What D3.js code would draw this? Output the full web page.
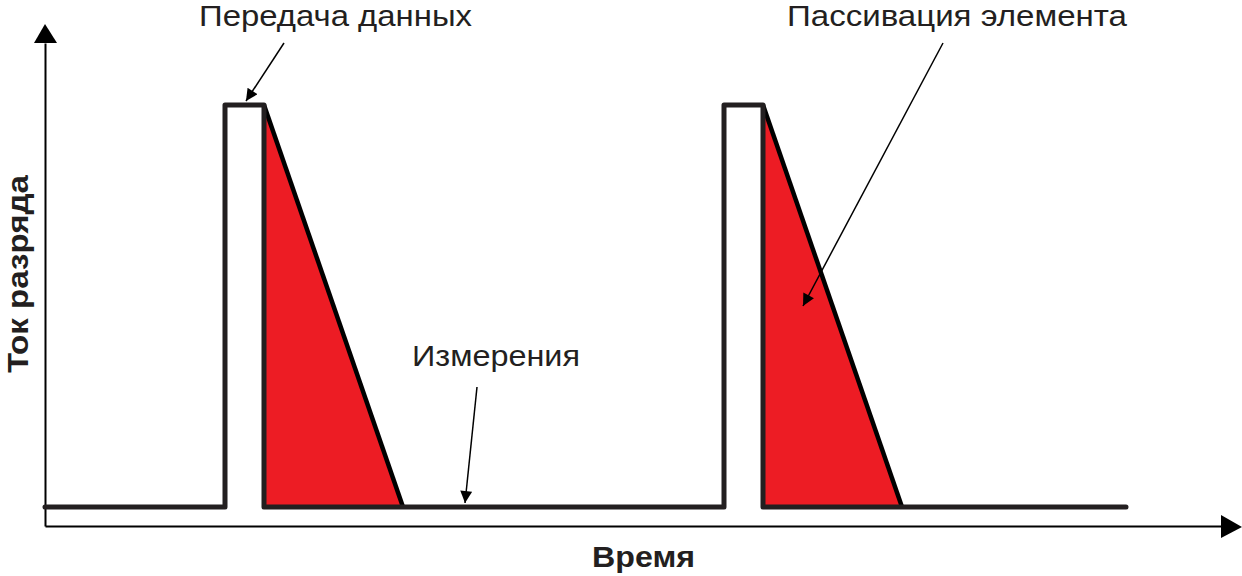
<!DOCTYPE html>
<html><head><meta charset="utf-8">
<script src="https://cdn.jsdelivr.net/npm/d3@7"></script>
<style>html,body{margin:0;padding:0;background:#fff;}svg{display:block;}</style>
</head><body>
<script>
// Data (arbitrary time units, normalized current)
const signalTime = [0, 180, 180, 219, 219, 679, 679, 718, 718, 1081];
const signalCurrent = [0, 0, 1, 1, 0, 0, 1, 1, 0, 0];
const passStart = [219, 718];
const passEnd = [358, 857];
const passPeak = [1, 1];
const labels = ["Передача данных", "Пассивация элемента", "Измерения"];
const labelTargetsT = [201, 758, 420];
const labelTargetsI = [1.01, 0.5, 0.01];
const axisTitles = ["Время", "Ток разряда"];

const W = 1242, H = 576;
const ink = "#231f20", red = "#ed1c24";
const svg = d3.select("body").append("svg").attr("width", W).attr("height", H);

const x = d3.scaleLinear().domain([0, 1196]).range([45, 1241]);
const y = d3.scaleLinear().domain([0, 1]).range([507, 105]);
const axisY = 526, axisX = 45;

// Axes (no ticks)
const xAxisScale = d3.scaleLinear().domain([0, 1]).range([axisX, 1222]);
svg.append("g").attr("transform", `translate(0,${axisY})`)
  .call(d3.axisBottom(xAxisScale).tickValues([]).tickSizeOuter(0))
  .select(".domain").attr("stroke", "#000").attr("stroke-width", 2);
const yAxisScale = d3.scaleLinear().domain([0, 1]).range([axisY, 43]);
svg.append("g").attr("transform", `translate(${axisX},0)`)
  .call(d3.axisLeft(yAxisScale).tickValues([]).tickSizeOuter(0))
  .select(".domain").attr("stroke", "#000").attr("stroke-width", 2);
svg.append("path").attr("d", `M1221,515L1242,527L1221,538Z`).attr("fill", "#000");
svg.append("path").attr("d", `M34,43L45,24L57,43Z`).attr("fill", "#000");

// Passivation triangles
passStart.forEach((s, i) => {
  svg.append("path")
    .attr("d", `M${x(s)},${y(passPeak[i])}L${x(passEnd[i])},${y(0)}L${x(s)},${y(0)}Z`)
    .attr("fill", red);
  svg.append("line")
    .attr("x1", x(s)).attr("y1", y(passPeak[i]))
    .attr("x2", x(passEnd[i])).attr("y2", y(0))
    .attr("stroke", "#000").attr("stroke-width", 4.5);
});

// Signal line
const pts = signalTime.map((t, i) => [x(t), y(signalCurrent[i])]);
svg.append("path").attr("d", d3.line()(pts))
  .attr("fill", "none").attr("stroke", ink).attr("stroke-width", 5)
  .attr("stroke-linejoin", "round").attr("stroke-linecap", "round");

// Arrow marker
svg.append("defs").append("marker").attr("id", "ah")
  .attr("viewBox", "0 0 10 10").attr("refX", 10).attr("refY", 5)
  .attr("markerWidth", 14).attr("markerHeight", 12).attr("markerUnits", "userSpaceOnUse")
  .attr("orient", "auto")
  .append("path").attr("d", "M0,0L10,5L0,10Z").attr("fill", "#000");

const font = "'Liberation Sans', Arial, Helvetica, sans-serif";
const labelPos = [[335.5, 26], [957, 26], [496, 366]];
const labelLen = [273, 340, 168];
const labelSize = [29, 29, 30];
const arrowStart = [[284, 43], [943, 43], [477, 387]];
labels.forEach((l, i) => {
  svg.append("text").attr("x", labelPos[i][0]).attr("y", labelPos[i][1])
    .attr("text-anchor", "middle").attr("font-family", font).attr("font-size", labelSize[i])
    .attr("textLength", labelLen[i]).attr("lengthAdjust", "spacingAndGlyphs")
    .attr("fill", ink).text(l);
  svg.append("line")
    .attr("x1", arrowStart[i][0]).attr("y1", arrowStart[i][1])
    .attr("x2", x(labelTargetsT[i])).attr("y2", y(labelTargetsI[i]))
    .attr("stroke", "#000").attr("stroke-width", 1.5).attr("marker-end", "url(#ah)");
});

svg.append("text").attr("x", 643.5).attr("y", 567).attr("text-anchor", "middle")
  .attr("font-family", font).attr("font-weight", "bold").attr("font-size", 29.5)
  .attr("textLength", 103).attr("lengthAdjust", "spacingAndGlyphs")
  .attr("fill", ink).text(axisTitles[0]);
svg.append("text").attr("transform", "translate(28,274) rotate(-90)").attr("text-anchor", "middle")
  .attr("font-family", font).attr("font-weight", "bold").attr("font-size", 30)
  .attr("textLength", 198).attr("lengthAdjust", "spacingAndGlyphs")
  .attr("fill", ink).text(axisTitles[1]);
</script>
</body></html>
